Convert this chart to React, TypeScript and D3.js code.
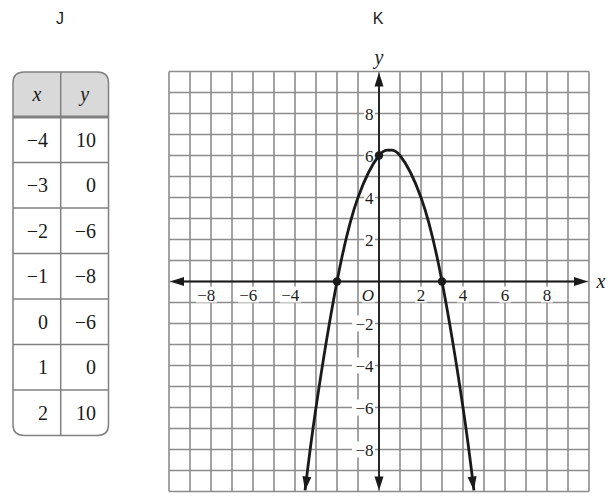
import React from "react";
import * as d3 from "d3";

const tableX = [-4, -3, -2, -1, 0, 1, 2];
const tableY = [10, 0, -6, -8, -6, 0, 10];

const gridValues = d3.range(-10, 11, 1);
const xTickLabels = [-8, -6, -4, 2, 4, 6, 8];
const yTickLabels = [8, 6, 4, 2, -2, -4, -6, -8];

// points (K)
const curveX = [-3.52, -3, -2, -1, 0, 0.5, 1, 2, 3, 4, 4.52];
const curveY = [-9.95, -6, 0, 4, 6, 6.25, 6, 4, 0, -6, -9.95];
const markedX = [-2, 0, 3];
const markedY = [0, 6, 0];

const W = 615;
const H = 504;
const serif = '"Liberation Serif", "Times New Roman", serif';
const sans = '"Liberation Sans", Arial, sans-serif';
const gridColor = "#8c8c8c";
const ink = "#1a1a1a";

function arrowHead(tipX: number, tipY: number, fromX: number, fromY: number, len = 13, half = 4.5) {
  const dx = tipX - fromX;
  const dy = tipY - fromY;
  const d = Math.hypot(dx, dy) || 1;
  const ux = dx / d;
  const uy = dy / d;
  const bx = tipX - ux * len;
  const by = tipY - uy * len;
  const px = -uy;
  const py = ux;
  return `M${tipX},${tipY}L${bx + px * half},${by + py * half}L${bx - px * half},${by - py * half}Z`;
}

const fmt = (v: number) => (v < 0 ? "\u2212" + Math.abs(v) : String(v));

export default function App() {
  const x = d3.scaleLinear().domain([-10, 10]).range([169, 589]);
  const y = d3.scaleLinear().domain([-10, 10]).range([491.5, 71.5]);

  const tLeft = 13;
  const tRight = 108.5;
  const tMid = 60.7;
  const tTop = 72;
  const headBottom = 117;
  const rowH = 45.5;
  const tBottom = headBottom + rowH * tableX.length;
  const r = 11;

  const line = d3
    .line<number>()
    .x((i) => x(curveX[i]))
    .y((i) => y(curveY[i]))
    .curve(d3.curveNatural);
  const curvePath = line(curveX.map((_, i) => i)) || "";

  const n = curveX.length;
  const leftTip = [x(curveX[0]), y(curveY[0])];
  const leftFrom = [x(curveX[1]), y(curveY[1])];
  const rightTip = [x(curveX[n - 1]), y(curveY[n - 1])];
  const rightFrom = [x(curveX[n - 2]), y(curveY[n - 2])];

  const x0 = x(0);
  const y0 = y(0);

  const outline = `M${tLeft},${tTop + r} Q${tLeft},${tTop} ${tLeft + r},${tTop} L${tRight - r},${tTop} Q${tRight},${tTop} ${tRight},${tTop + r} L${tRight},${tBottom - r} Q${tRight},${tBottom} ${tRight - r},${tBottom} L${tLeft + r},${tBottom} Q${tLeft},${tBottom} ${tLeft},${tBottom - r} Z`;
  const headPath = `M${tLeft},${headBottom} L${tLeft},${tTop + r} Q${tLeft},${tTop} ${tLeft + r},${tTop} L${tRight - r},${tTop} Q${tRight},${tTop} ${tRight},${tTop + r} L${tRight},${headBottom} Z`;

  const serifStyle = { fontFamily: serif };
  const serifItalic = { fontFamily: serif, fontStyle: "italic" as const };
  const sansStyle = { fontFamily: sans };

  return (
    <svg width={W} height={H} style={{ display: "block", position: "absolute", left: 0, top: 0 }}>
      <rect x={0} y={0} width={W} height={H} fill="#fff" />
      <text x={60} y={24} style={sansStyle} fontSize={16} textAnchor="middle" fill={ink}>J</text>
      <text x={378} y={24} style={sansStyle} fontSize={16} textAnchor="middle" fill={ink}>K</text>

      {/* table */}
      <path d={headPath} fill="#d9d9d9" />
      {tableX.map((_, i) => (
        <line key={"rl" + i} x1={tLeft} x2={tRight} y1={headBottom + rowH * i} y2={headBottom + rowH * i}
          stroke="#808080" strokeWidth={i === 0 ? 3 : 1.5} />
      ))}
      <line x1={tMid} x2={tMid} y1={tTop} y2={tBottom} stroke="#808080" strokeWidth={1.5} />
      <path d={outline} fill="none" stroke="#808080" strokeWidth={1.5} />
      <text x={(tLeft + tMid) / 2} y={(tTop + headBottom) / 2 + 6} style={serifItalic} fontSize={20} textAnchor="middle" fill={ink}>x</text>
      <text x={(tMid + tRight) / 2} y={(tTop + headBottom) / 2 + 6} style={serifItalic} fontSize={20} textAnchor="middle" fill={ink}>y</text>
      {tableX.map((v, i) => {
        const cy = headBottom + rowH * i + rowH / 2 + 7;
        return (
          <g key={"row" + i}>
            <text x={48} y={cy} style={serifStyle} fontSize={20} textAnchor="end" fill={ink}>{fmt(v)}</text>
            <text x={96} y={cy} style={serifStyle} fontSize={20} textAnchor="end" fill={ink}>{fmt(tableY[i])}</text>
          </g>
        );
      })}

      {/* grid */}
      {gridValues.map((v) => (
        <line key={"gx" + v} x1={x(v)} x2={x(v)} y1={y(-10)} y2={y(10)} stroke={gridColor} strokeWidth={1.6} />
      ))}
      {gridValues.map((v) => (
        <line key={"gy" + v} x1={x(-10)} x2={x(10)} y1={y(v)} y2={y(v)} stroke={gridColor} strokeWidth={1.6} />
      ))}

      {/* label backgrounds */}
      {xTickLabels.map((v) => (
        <rect key={"xb" + v} x={v < 0 ? x(v) - 15 : x(v) - 6} y={y0 + 5} width={v < 0 ? 21 : 12} height={16} fill="#fff" />
      ))}
      <rect x={x0 - 17} y={y0 + 5} width={13} height={16} fill="#fff" />
      {yTickLabels.map((v) => (
        <rect key={"yb" + v} x={v < 0 ? x0 - 27 : x0 - 15} y={y(v) - 8} width={v < 0 ? 23 : 11} height={16} fill="#fff" />
      ))}

      {/* axes */}
      <line x1={x(-10) + 6} x2={x(10) - 6} y1={y0} y2={y0} stroke={ink} strokeWidth={1.8} />
      <line x1={x0} x2={x0} y1={y(10) + 6} y2={y(-10) - 6} stroke={ink} strokeWidth={1.8} />
      <path d={arrowHead(x(-10) + 1, y0, x(-9), y0, 14, 4.5)} fill={ink} />
      <path d={arrowHead(x(10) - 1, y0, x(9), y0, 14, 4.5)} fill={ink} />
      <path d={arrowHead(x0, y(10) + 1, x0, y(9), 14, 4.5)} fill={ink} />
      <path d={arrowHead(x0, y(-10) - 1, x0, y(-9), 14, 4.5)} fill={ink} />
      <text x={x(10) + 12} y={y0 + 6} style={serifItalic} fontSize={20} textAnchor="middle" fill={ink}>x</text>
      <text x={x0} y={y(10) - 8} style={serifItalic} fontSize={20} textAnchor="middle" fill={ink}>y</text>

      {/* tick labels */}
      {xTickLabels.map((v) => (
        <text key={"xt" + v} x={x(v) + 4.3} y={y0 + 19} style={serifStyle} fontSize={17} textAnchor="end" fill={ink}>
          {fmt(v)}
        </text>
      ))}
      <text x={x0 - 11} y={y0 + 19} style={serifItalic} fontSize={17} textAnchor="middle" fill={ink}>O</text>
      {yTickLabels.map((v) => (
        <text key={"yt" + v} x={x0 - 5.5} y={y(v) + 6} style={serifStyle} fontSize={17} textAnchor="end" fill={ink}>
          {fmt(v)}
        </text>
      ))}

      {/* curve */}
      <path d={curvePath} fill="none" stroke={ink} strokeWidth={2.8} />
      <path d={arrowHead(leftTip[0], leftTip[1], leftFrom[0], leftFrom[1], 14, 4.5)} fill={ink} />
      <path d={arrowHead(rightTip[0], rightTip[1], rightFrom[0], rightFrom[1], 14, 4.5)} fill={ink} />
      {markedX.map((v, i) => (
        <circle key={"pt" + i} cx={x(v)} cy={y(markedY[i])} r={4.2} fill={ink} />
      ))}
    </svg>
  );
}
